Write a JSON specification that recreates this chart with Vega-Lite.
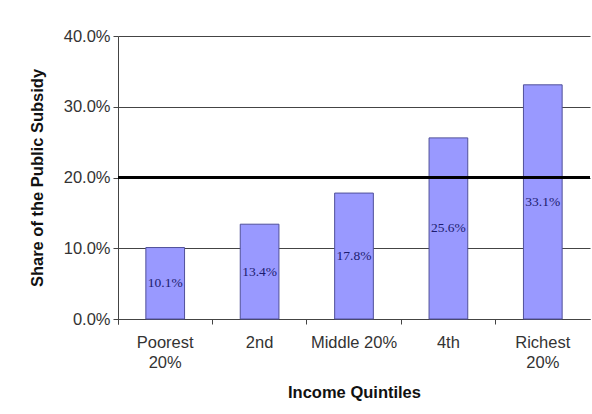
{
  "$schema": "https://vega.github.io/schema/vega-lite/v6.json",
  "width": 472,
  "height": 283,
  "autosize": "none",
  "padding": {"left": 118, "top": 36, "right": 2, "bottom": 95},
  "background": "white",
  "config": {"view": {"stroke": null}, "font": "Liberation Sans"},
  "datasets": {
    "bars": [
      {"quintile": "Poorest 20%", "share": 0.101},
      {"quintile": "2nd", "share": 0.134},
      {"quintile": "Middle 20%", "share": 0.178},
      {"quintile": "4th", "share": 0.256},
      {"quintile": "Richest 20%", "share": 0.331}
    ],
    "ref": [{"share": 0.2}]
  },
  "layer": [
    {
      "data": {"name": "bars"},
      "mark": {"type": "bar", "fill": "#9999ff", "stroke": "#50509a", "strokeWidth": 1, "width": {"band": 0.41}},
      "encoding": {
        "x": {
          "field": "quintile", "type": "nominal", "sort": null,
          "scale": {"paddingInner": 0, "paddingOuter": 0},
          "axis": {
            "title": "Income Quintiles", "bandPosition": 0, "tickExtra": true,
            "ticks": true, "tickSize": 5, "tickColor": "#444", "domainColor": "#444",
            "labelAngle": 0, "labelFontSize": 16.5, "labelColor": "#333", "labelPadding": 10,
            "labelLineHeight": 20,
            "labelExpr": "datum.label == 'Poorest 20%' ? ['Poorest', '20%'] : datum.label == 'Richest 20%' ? ['Richest', '20%'] : datum.label",
            "titleFontSize": 16.5, "titleFontWeight": "bold", "titleColor": "#111", "titlePadding": 14
          }
        },
        "y": {
          "field": "share", "type": "quantitative",
          "scale": {"domain": [0, 0.4]},
          "axis": {
            "format": ".1%", "values": [0, 0.1, 0.2, 0.3, 0.4], "grid": true,
            "gridColor": "#444", "domainColor": "#444", "tickColor": "#444", "tickSize": 5,
            "labelPadding": 3, "labelFontSize": 16.5, "labelColor": "#333",
            "title": "Share of the Public Subsidy", "titleFontSize": 16.5, "titleFontWeight": "bold",
            "titleColor": "#111", "titlePadding": 18
          }
        }
      }
    },
    {
      "data": {"name": "bars"},
      "transform": [{"calculate": "datum.share / 2", "as": "mid"}],
      "mark": {"type": "text", "font": "Liberation Serif", "fontSize": 13.5, "color": "#1c1c70"},
      "encoding": {
        "x": {"field": "quintile", "type": "nominal", "sort": null},
        "y": {"field": "mid", "type": "quantitative"},
        "text": {"field": "share", "type": "quantitative", "format": ".1%"}
      }
    },
    {
      "data": {"name": "ref"},
      "mark": {"type": "rule", "color": "black", "strokeWidth": 3},
      "encoding": {"y": {"field": "share", "type": "quantitative"}}
    }
  ]
}
